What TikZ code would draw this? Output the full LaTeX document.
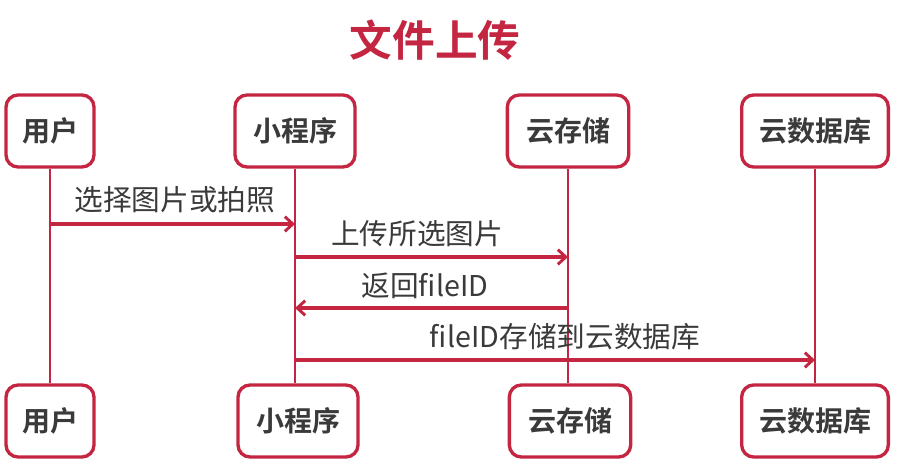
\documentclass[tikz,border=0pt]{standalone}
\usepackage{fontspec}
\setmainfont{Noto Sans CJK SC}
\newfontfamily\cjkbold{Noto Sans CJK SC Bold}
\usepackage{tikz}
\usetikzlibrary{arrows.meta,shadows}
\definecolor{lineRed}{RGB}{196,38,66}
\definecolor{textGray}{RGB}{58,58,58}
\tikzset{
  actor/.style={draw=lineRed,line width=2.5pt,rounded corners=9pt,fill=white,
    minimum height=54pt,inner sep=0pt,text=textGray,font=\cjkbold\fontsize{21}{25}\selectfont,
    drop shadow={opacity=0.18,shadow xshift=0.8pt,shadow yshift=-0.8pt}},
  lifeline/.style={draw=lineRed,line width=2pt},
  msg/.style={draw=lineRed,line width=2.5pt,-{Straight Barb[length=6pt,width=11pt,line width=2.2pt]}},
  msgtext/.style={text=textGray,inner sep=0pt,font=\fontsize{21.5}{25}\selectfont}
}

\begin{document}
\begin{tikzpicture}[x=0.75pt,y=0.75pt,yscale=-1,xscale=1]
\useasboundingbox[fill=white] (0,0) rectangle (922,474);

% Title
\node (title) at (435,40) [text=lineRed,font=\cjkbold\fontsize{32}{36}\selectfont] {文件上传};

% Top actors
\node (userTop) at (50,131) [actor,minimum width=66pt] {用户};
\node (appTop) at (295,131) [actor,minimum width=90pt] {小程序};
\node (storeTop) at (568,131) [actor,minimum width=91pt] {云存储};
\node (dbTop) at (815,131) [actor,minimum width=110pt] {云数据库};
% Bottom actors
\node (userBot) at (50,421) [actor,minimum width=66pt] {用户};
\node (appBot) at (298,421) [actor,minimum width=90pt] {小程序};
\node (storeBot) at (570,421) [actor,minimum width=91pt] {云存储};
\node (dbBot) at (815,421) [actor,minimum width=110pt] {云数据库};

% Lifelines
\draw [lifeline] (userTop) -- (userBot);
\draw [lifeline] (appTop.south) -- (appTop.south |- appBot.north);
\draw [lifeline] (storeTop.south) -- (storeTop.south |- storeBot.north);
\draw [lifeline] (dbTop) -- (dbBot);

% Message ends on the lifelines
\coordinate (userA) at (userTop.south |- 0,224);
\coordinate (appA) at (appTop.south |- 0,224);
\coordinate (appB) at (appTop.south |- 0,257);
\coordinate (storeB) at (storeTop.south |- 0,257);
\coordinate (storeC) at (storeTop.south |- 0,308);
\coordinate (appC) at (appTop.south |- 0,308);
\coordinate (appD) at (appTop.south |- 0,360);
\coordinate (dbD) at (dbTop.south |- 0,360);

% Messages
\draw [msg] (userA) -- (appA);
\draw [msg] (appB) -- (storeB);
\draw [msg] (storeC) -- (appC);
\draw [msg] (appD) -- (dbD);

% Text Node
\node (pickText) at (175,200) [msgtext] {选择图片或拍照};
% Text Node
\node (uploadText) at (417,234) [msgtext] {上传所选图片};
% Text Node
\node (returnText) at (425,286) [msgtext] {返回fileID};
% Text Node
\node (saveText) at (565,337) [msgtext] {fileID存储到云数据库};

\end{tikzpicture}
\end{document}
